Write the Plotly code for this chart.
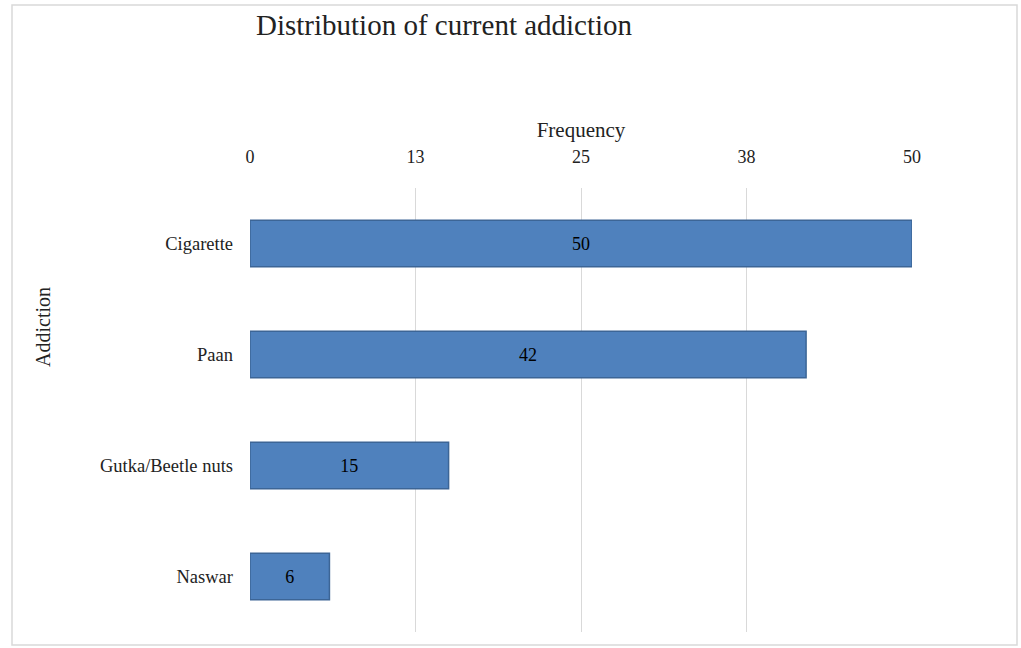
import plotly.graph_objects as go

categories = ["Cigarette", "Paan", "Gutka/Beetle nuts", "Naswar"]
frequency = [50, 42, 15, 6]
tick_values = [0, 12.5, 25, 37.5, 50]
tick_labels = ["0", "13", "25", "38", "50"]

FONT = "Liberation Serif"
W, H = 1021, 648
L, R, T, B = 250, 109, 188, 16
PW, PH = W - L - R, H - T - B


def px_x(px):
    return (px - L) / PW


def px_y(py):
    return (H - B - py) / PH


fig = go.Figure(
    go.Bar(
        y=categories,
        x=frequency,
        orientation="h",
        width=0.42,
        marker=dict(color="#4F81BD", line=dict(color="#3C6596", width=1.5)),
        text=[str(v) for v in frequency],
        textposition="inside",
        insidetextanchor="middle",
        textfont=dict(family=FONT, size=18, color="#000000"),
    )
)

fig.update_layout(
    width=W,
    height=H,
    paper_bgcolor="white",
    plot_bgcolor="white",
    margin=dict(l=L, r=R, t=T, b=B),
    showlegend=False,
    title=dict(
        text="Distribution of current addiction",
        font=dict(family=FONT, size=29, color="#222222"),
        x=256 / W,
        xanchor="left",
        xref="container",
        y=1 - 25 / H,
        yanchor="middle",
        yref="container",
    ),
    font=dict(family=FONT, color="#222222"),
    shapes=[
        dict(type="rect", xref="paper", yref="paper",
             x0=px_x(12), x1=px_x(1017),
             y0=px_y(645), y1=px_y(5),
             line=dict(color="#D9D9D9", width=1.5), layer="below"),
    ],
    annotations=[
        dict(text="Addiction", xref="paper", yref="paper",
             x=px_x(43), y=px_y(327), showarrow=False, textangle=-90,
             xanchor="center", yanchor="middle",
             font=dict(family=FONT, size=20, color="#222222")),
    ],
)

fig.update_xaxes(
    side="top",
    range=[0, 50],
    tickvals=tick_values,
    ticktext=tick_labels,
    tickfont=dict(family=FONT, size=18, color="#222222"),
    showgrid=True,
    gridcolor="#D9D9D9",
    gridwidth=1,
    zeroline=False,
    showline=False,
    ticks="",
    ticklabelstandoff=20,
    title=dict(text="Frequency", font=dict(family=FONT, size=21, color="#222222"), standoff=4),
)

fig.update_yaxes(
    categoryorder="array",
    categoryarray=categories[::-1],
    tickfont=dict(family=FONT, size=18.5, color="#222222"),
    showgrid=False,
    zeroline=False,
    showline=False,
    ticks="",
    ticklabelstandoff=16,
)

fig.write_html("out.html")
